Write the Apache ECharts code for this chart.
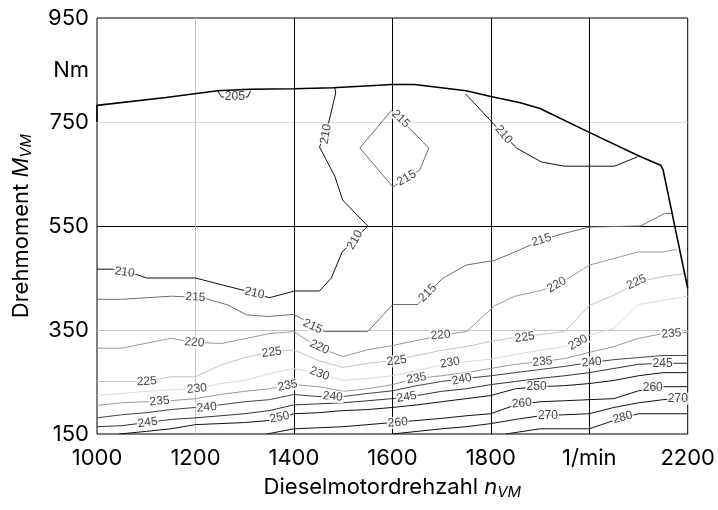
<!DOCTYPE html>
<html>
<head>
<meta charset="utf-8">
<script src="https://cdn.jsdelivr.net/npm/echarts@6/dist/echarts.min.js"></script>
<style>
  html, body { margin: 0; padding: 0; background: #fff; }
  #map { width: 718px; height: 510px; }
</style>
</head>
<body>
<div id="map"></div>
<script>
// tick labels
const speedTicks = [1000, 1200, 1400, 1600, 1800, 2000, 2200];
const speedTickLabels = ['1000', '1200', '1400', '1600', '1800', '1/min', '2200'];
const torqueTicks = [150, 350, 550, 750, 850, 950];
const torqueTickLabels = ['150', '350', '550', '750', 'Nm', '950'];

// full load curve [rpm, Nm]
const fullLoad = [[1000,750],[1000,782],[1140,797],[1245,810],[1310,813],[1400,814],[1480,816],[1600,822],[1645,822],[1750,810],[1800,799],[1860,787],[1900,776],[2000,730],[2100,685],[2145,667],[2150,658],[2200,430]];

// iso lines of specific consumption g/kWh [rpm, Nm]
const iso205 = [[1245,810],[1253,798],[1306,798],[1312,810]];
const iso210a = [[1000,467],[1032,467],[1056,461],[1083,456],[1101,450],[1200,450],[1253,437],[1320,421],[1350,412],[1401,425],[1452,425],[1476,450],[1498,500],[1550,550],[1499,600],[1483,646],[1452,702],[1464,727],[1472,754],[1485,806],[1483,816]];
const iso210b = [[1749,804],[1800,752],[1852,700],[1903,673],[1950,665],[2051,665],[2098,683]];
const iso215a = [[1598,772],[1635,738],[1674,700],[1656,658],[1601,625],[1534,700],[1598,772]];
const iso215b = [[1000,409],[1050,409],[1151,415],[1200,413],[1219,411],[1266,398],[1304,379],[1347,376],[1400,380],[1463,347],[1550,347],[1601,399],[1652,399],[1672,421],[1702,449],[1750,475],[1808,484],[1849,500],[1903,523],[1950,536],[2000,548],[2104,550],[2153,574],[2167,574]];
const iso220 = [[1000,315],[1050,315],[1150,334],[1200,326],[1253,324],[1350,343],[1400,347],[1450,316],[1500,299],[1550,312],[1600,320],[1700,340],[1751,347],[1808,397],[1849,415],[1903,426],[1934,437],[1957,449],[2001,475],[2099,500],[2150,500],[2177,505]];
const iso225 = [[1000,251],[1050,251],[1100,251],[1150,260],[1200,260],[1250,282],[1300,297],[1350,307],[1400,312],[1450,291],[1500,278],[1550,286],[1600,291],[1650,301],[1700,311],[1750,318],[1800,328],[1850,336],[1900,341],[1950,347],[2000,397],[2050,417],[2100,442],[2150,453],[2200,459]];
const iso230 = [[1000,224],[1050,228],[1100,232],[1150,235],[1200,237],[1250,247],[1300,253],[1350,266],[1400,276],[1450,266],[1500,253],[1550,257],[1600,262],[1650,272],[1700,283],[1750,289],[1800,294],[1850,303],[1900,311],[1950,318],[1975,326],[2000,340],[2050,353],[2100,399],[2150,407],[2200,415]];
const iso235 = [[1000,205],[1050,210],[1100,212],[1150,214],[1200,218],[1250,226],[1300,232],[1350,237],[1400,245],[1450,241],[1500,232],[1550,237],[1600,245],[1650,257],[1700,262],[1750,268],[1800,276],[1850,284],[1900,289],[1950,295],[2000,307],[2050,318],[2100,334],[2150,343],[2200,345]];
const iso240 = [[1000,181],[1050,187],[1100,191],[1150,197],[1200,201],[1250,206],[1300,212],[1350,216],[1400,226],[1450,222],[1500,222],[1550,228],[1600,233],[1650,243],[1700,251],[1750,257],[1800,262],[1850,268],[1900,274],[1950,280],[2000,287],[2050,293],[2100,297],[2150,301],[2200,301]];
const iso245 = [[1000,164],[1050,166],[1100,172],[1150,178],[1200,181],[1250,185],[1300,189],[1350,195],[1400,206],[1450,208],[1500,210],[1550,214],[1600,218],[1650,224],[1700,232],[1750,237],[1800,245],[1850,251],[1900,257],[1950,262],[2000,268],[2050,276],[2100,284],[2150,286],[2200,286]];
const iso250 = [[1045,150],[1100,155],[1150,160],[1200,168],[1250,170],[1300,172],[1350,176],[1400,189],[1450,191],[1500,195],[1550,197],[1600,201],[1650,206],[1700,212],[1750,218],[1800,224],[1850,237],[1900,241],[1950,243],[2000,247],[2050,253],[2100,262],[2150,268],[2200,268]];
const iso260 = [[1345,150],[1400,160],[1450,162],[1500,164],[1550,168],[1600,172],[1650,176],[1700,180],[1750,185],[1800,189],[1850,206],[1900,212],[1950,214],[2000,216],[2050,218],[2100,233],[2150,241],[2200,241]];
const iso270 = [[1600,150],[1650,155],[1700,160],[1750,164],[1800,170],[1850,178],[1900,185],[1950,187],[2000,189],[2050,201],[2100,210],[2150,216],[2200,218]];
const iso280 = [[1830,150],[1900,160],[2000,160],[2050,176],[2100,189],[2150,189],[2200,189]];

// contour labels [rpm, Nm, value]
const isoLabels = [
  [1280,798,205],
  [1056,461,210],[1320,421,210],[1524,523,210],[1465,727,210],[1826,726,210],
  [1617,756,215],[1629,642,215],[1200,413,215],[1438,357,215],[1672,421,215],[1903,523,215],
  [1198,326,220],[1452,317,220],[1698,340,220],[1934,437,220],
  [1101,251,225],[1355,307,225],[1609,291,225],[1869,336,225],[2096,442,225],
  [1203,237,230],[1452,266,230],[1717,287,230],[1977,326,230],
  [1127,213,235],[1387,243,235],[1649,257,235],[1905,289,235],[2167,343,235],
  [1223,201,240],[1479,222,240],[1741,255,240],[2005,288,240],
  [1103,172,245],[1629,221,245],[2149,286,245],
  [1371,182,250],[1893,241,250],
  [1611,172,260],[1863,209,260],[2129,239,260],
  [1916,186,270],[2180,218,270],
  [2068,182,280]
];
const labelTilt = [0, -8,-12,60,80,-50, -45,30,-3,-25,45,18, -5,-25,5,30, 3,8,8,8,25, 5,-20,10,30, 5,12,10,5,5, 5,-5,12,5, 8,10,0, 12,0, 5,5,0, 0,0, 15];

const isoLines = [
  [205, iso205], [210, iso210a], [210, iso210b], [215, iso215a], [215, iso215b],
  [220, iso220], [225, iso225], [230, iso230], [235, iso235], [240, iso240],
  [245, iso245], [250, iso250], [260, iso260], [270, iso270], [280, iso280]
];

function isoColor(level) {
  if (level <= 210) return '#111';
  if (level === 215) return '#6e6e6e';
  if (level === 220) return '#999';
  if (level === 225) return '#c2c2c2';
  if (level === 230) return '#dadada';
  if (level === 235) return '#999';
  if (level === 240) return '#444';
  if (level === 245) return '#333';
  return '#111';
}

const font = 'Liberation Sans, Arial, sans-serif';
const axisFont = 'Inter, Liberation Sans, Arial, sans-serif';
const chart = echarts.init(document.getElementById('map'));

const series = isoLines.map(([level, pts]) => ({
  type: 'line',
  data: pts,
  symbol: 'none',
  silent: true,
  z: 3,
  lineStyle: { color: isoColor(level), width: 1 }
}));

series.push({
  type: 'line',
  data: fullLoad,
  symbol: 'none',
  silent: true,
  z: 4,
  lineStyle: { color: '#000', width: 1.6 }
});

series.push({
  type: 'scatter',
  z: 6,
  symbolSize: 1,
  itemStyle: { color: 'rgba(0,0,0,0)' },
  data: isoLabels.map((d, i) => ({
    value: d,
    label: { rotate: labelTilt[i] }
  })),
  label: {
    show: true,
    position: 'inside',
    formatter: p => String(p.value[2]),
    fontFamily: font,
    fontSize: 12,
    color: '#111',
    backgroundColor: '#fff',
    padding: [0, 1]
  }
});

const titleRich = {
  t: { fontFamily: axisFont, fontSize: 22, color: '#000', lineHeight: 24 },
  i: { fontFamily: axisFont, fontSize: 22, fontStyle: 'italic', color: '#000', lineHeight: 24 },
  s: { fontFamily: axisFont, fontSize: 15, fontStyle: 'italic', color: '#000', lineHeight: 15, padding: [11, 0, 0, 0] }
};

chart.setOption({
  animation: false,
  backgroundColor: '#fff',
  grid: { left: 97, right: 30, top: 18, bottom: 76, show: true, borderColor: '#000', borderWidth: 1 },
  xAxis: {
    type: 'value',
    min: 1000, max: 2200, interval: 200,
    axisLine: { show: false },
    axisTick: { show: false },
    axisLabel: {
      margin: 13,
      fontFamily: axisFont, fontSize: 22, color: '#000',
      formatter: v => {
        const i = speedTicks.indexOf(v);
        return i >= 0 ? speedTickLabels[i] : '';
      }
    },
    splitLine: {
      show: true,
      lineStyle: { width: 1, color: ['rgba(0,0,0,0)', '#c4c4c4', '#000', '#000', '#000', '#000', 'rgba(0,0,0,0)'] }
    },
    name: '{t|Dieselmotordrehzahl }{i|n}{s|VM}',
    nameLocation: 'middle',
    nameGap: 37,
    nameTextStyle: { rich: titleRich }
  },
  yAxis: {
    type: 'value',
    min: 150, max: 950, interval: 100,
    axisLine: { show: false },
    axisTick: { show: false },
    axisLabel: {
      margin: 8,
      fontFamily: axisFont, fontSize: 22, color: '#000',
      formatter: v => {
        const i = torqueTicks.indexOf(v);
        return i >= 0 ? torqueTickLabels[i] : '';
      }
    },
    splitLine: {
      show: true,
      lineStyle: { width: 1, color: ['rgba(0,0,0,0)', 'rgba(0,0,0,0)', '#c4c4c4', 'rgba(0,0,0,0)', '#000', 'rgba(0,0,0,0)', '#dcdcdc', 'rgba(0,0,0,0)', 'rgba(0,0,0,0)'] }
    },
    name: '{t|Drehmoment }{i|M}{s|VM}',
    nameLocation: 'middle',
    nameGap: 64,
    nameTextStyle: { rich: titleRich }
  },
  series: series
});
</script>
</body>
</html>
